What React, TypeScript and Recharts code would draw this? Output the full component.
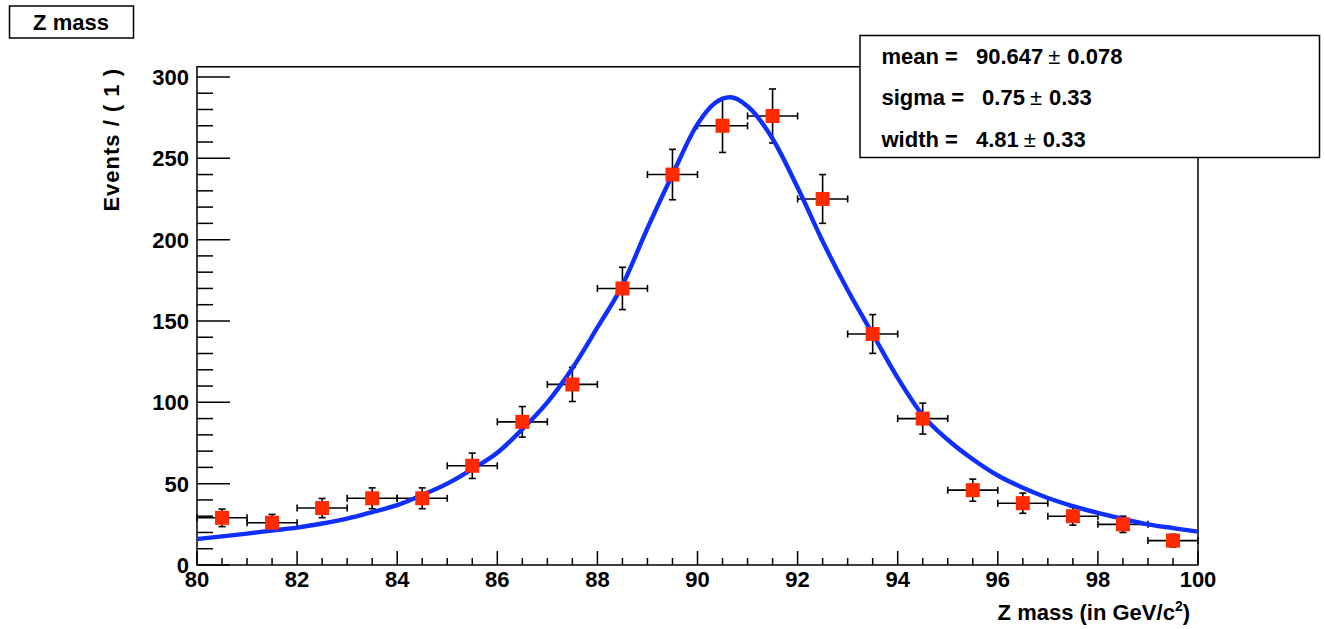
import React from 'react';
import { ComposedChart, Scatter, Line, XAxis, YAxis, ErrorBar, ReferenceArea } from 'recharts';

// binned data: Z mass histogram (1 GeV bins)
const binCenters = [80.5, 81.5, 82.5, 83.5, 84.5, 85.5, 86.5, 87.5, 88.5, 89.5, 90.5, 91.5, 92.5, 93.5, 94.5, 95.5, 96.5, 97.5, 98.5, 99.5];
const binCounts = [29, 26, 35, 41, 41, 61, 88, 111, 170, 240, 270, 276, 225, 142, 90, 46, 38, 30, 25, 15];
const countErrors = [5.4, 5.1, 5.9, 6.4, 6.4, 7.8, 9.4, 10.5, 13, 15.5, 16.4, 16.6, 15, 11.9, 9.5, 6.8, 6.2, 5.5, 5, 3.9];
const BIN_HALF_WIDTH = 0.5;

// fitted curve
const fitX = [80, 80.5, 81, 81.5, 82, 82.5, 83, 83.5, 84, 84.5, 85, 85.5, 86, 86.5, 87, 87.5, 88, 88.5, 89, 89.5, 90, 90.35, 90.65, 91, 91.5, 92, 92.5, 93, 93.5, 94, 94.5, 95, 95.5, 96, 96.5, 97, 97.5, 98, 98.5, 99, 99.5, 100];
const fitY = [16, 17.6, 19.3, 21.2, 23, 25.5, 28.5, 32.5, 36.8, 43, 50, 59, 69, 83.5, 100, 121, 146, 172, 207, 240, 271, 284, 287.5, 282, 262, 232, 199, 169, 142, 115, 92, 77, 65, 55, 47.5, 41.2, 36.2, 32, 28.3, 25, 22.7, 20.5];

const fitParamNames = ['mean', 'sigma', 'width'];
const fitParamValues = ['90.647', '0.75', '4.81'];
const fitParamErrors = ['0.078', '0.33', '0.33'];

const xMajorTicks = [80, 82, 84, 86, 88, 90, 92, 94, 96, 98, 100];
const yMajorTicks = [0, 50, 100, 150, 200, 250, 300];
const xAllTicks = Array.from({ length: 41 }, (_, i) => 80 + i * 0.5);
const yAllTicks = Array.from({ length: 31 }, (_, i) => i * 10);

const Y_TOP = 306.3;
const FONT = '"Liberation Sans", Arial, Helvetica, sans-serif';
const RED = '#ff2a00';
const BLUE = '#0f2fff';

const points = binCenters.map((x, i) => ({ x, y: binCounts[i], xErr: BIN_HALF_WIDTH, yErr: countErrors[i] }));
const curve = fitX.map((x, i) => ({ x, y: fitY[i] }));

const XTick = ({ x, y, payload }: any) => {
  const v = payload.value;
  const major = xMajorTicks.some((t) => Math.abs(t - v) < 1e-6);
  return (
    <g>
      <line x1={x} y1={y} x2={x} y2={y - (major ? 14 : 7)} stroke="#000" strokeWidth={1.5} />
      {major && (
        <text x={x} y={y + 22} textAnchor="middle" fontFamily={FONT} fontWeight="bold" fontSize={22} fill="#000">
          {v}
        </text>
      )}
    </g>
  );
};

const YTick = ({ x, y, payload }: any) => {
  const v = payload.value;
  const major = yMajorTicks.includes(v);
  return (
    <g>
      <line x1={x} y1={y} x2={x + (major ? 33 : 16)} y2={y} stroke="#000" strokeWidth={1.5} />
      {major && (
        <text x={x - 8} y={y + 8} textAnchor="end" fontFamily={FONT} fontWeight="bold" fontSize={22} fill="#000">
          {v}
        </text>
      )}
    </g>
  );
};

const SquareMarker = (props: any) => {
  const { cx, cy } = props;
  return <rect x={cx - 7} y={cy - 7} width={14} height={14} fill={RED} />;
};

export default function App() {
  return (
    <div style={{ position: 'absolute', left: 0, top: 0, width: 1325, height: 629, background: '#fff', fontFamily: FONT }}>
      <ComposedChart width={1325} height={629} margin={{ top: 66.7, right: 127, left: 137, bottom: 24 }}>
        <XAxis
          type="number"
          dataKey="x"
          domain={[80, 100]}
          ticks={xAllTicks}
          interval={0}
          tickSize={0}
          tickMargin={0}
          tickLine={false}
          axisLine={false}
          tick={<XTick />}
          height={40}
          allowDataOverflow
        />
        <YAxis
          type="number"
          dataKey="y"
          domain={[0, Y_TOP]}
          ticks={yAllTicks}
          interval={0}
          tickSize={0}
          tickMargin={0}
          tickLine={false}
          axisLine={false}
          tick={<YTick />}
          width={60}
          allowDataOverflow
        />
        <ReferenceArea x1={80} x2={100} y1={0} y2={Y_TOP} fill="none" stroke="#000" strokeWidth={1.5} />
        <Scatter data={points} shape={<SquareMarker />} isAnimationActive={false}>
          <ErrorBar dataKey="xErr" direction="x" width={3.5} stroke="#000" strokeWidth={1.6} />
          <ErrorBar dataKey="yErr" direction="y" width={3.5} stroke="#000" strokeWidth={1.6} />
        </Scatter>
        <Line
          data={curve}
          dataKey="y"
          type="monotone"
          stroke={BLUE}
          strokeWidth={4.4}
          dot={false}
          activeDot={false}
          isAnimationActive={false}
        />
      </ComposedChart>

      <svg width={1325} height={629} style={{ position: 'absolute', left: 0, top: 0, pointerEvents: 'none' }}>
        {/* title box */}
        <rect x={9.5} y={6} width={124} height={32} fill="#fff" stroke="#000" strokeWidth={1.5} />
        <text x={71} y={30} textAnchor="middle" fontFamily={FONT} fontWeight="bold" fontSize={22} fill="#000">
          Z mass
        </text>

        {/* axis titles */}
        <text
          transform="translate(119,68) rotate(-90)"
          textAnchor="end"
          fontFamily={FONT}
          fontWeight="bold"
          fontSize={22}
          letterSpacing={1}
          fill="#000"
        >
          Events / ( 1 )
        </text>
        <text x={1190} y={620} textAnchor="end" fontFamily={FONT} fontWeight="bold" fontSize={22} fill="#000">
          Z mass (in GeV/c<tspan dy={-9} fontSize={14}>2</tspan>
          <tspan dy={9}>)</tspan>
        </text>

        {/* fit statistics box */}
        <rect x={860} y={35.5} width={459.5} height={122} fill="#fff" stroke="#000" strokeWidth={1.5} />
        {fitParamNames.map((name, i) => (
          <text
            key={name}
            x={881.5}
            y={63.5 + i * 41.5}
            fontFamily={FONT}
            fontWeight="bold"
            fontSize={22}
            fill="#000"
            xmlSpace="preserve"
          >
            {`${name} =`}
            <tspan dx={18}>{fitParamValues[i]}</tspan>
            <tspan dx={5} fontWeight="normal">±</tspan>
            <tspan dx={7}>{fitParamErrors[i]}</tspan>
          </text>
        ))}
      </svg>
    </div>
  );
}
